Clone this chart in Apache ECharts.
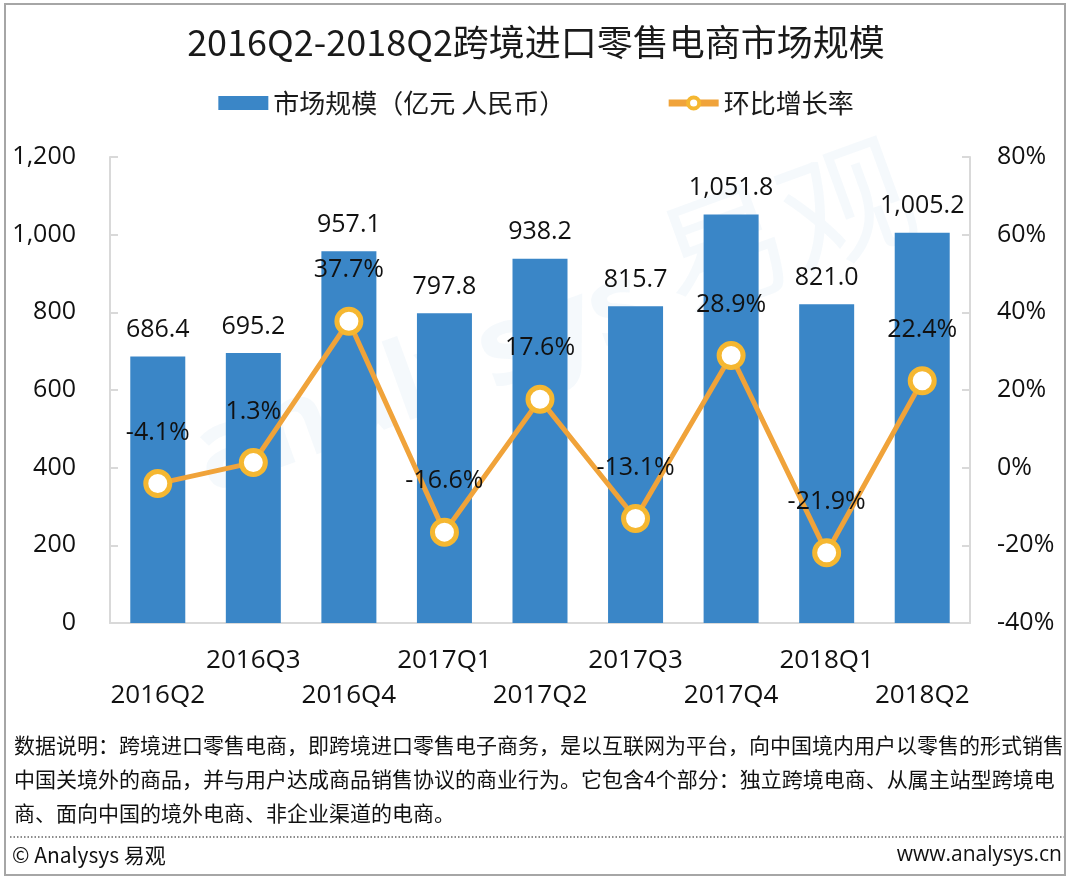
<!DOCTYPE html>
<html>
<head>
<meta charset="utf-8">
<script src="https://cdn.jsdelivr.net/npm/echarts@6/dist/echarts.min.js"></script>
<style>
html, body { margin: 0; padding: 0; background: #fff; }
#main { width: 1072px; height: 884px; }
#frame { position: absolute; left: 4px; top: 3px; width: 1062px; height: 873px; border: 2px solid #a6a6a6; box-sizing: border-box; pointer-events: none; }
</style>
</head>
<body>
<div id="main"></div>
<div id="frame"></div>
<script>
var categories = ['2016Q2', '2016Q3', '2016Q4', '2017Q1', '2017Q2', '2017Q3', '2017Q4', '2018Q1', '2018Q2'];
var marketSize = [686.4, 695.2, 957.1, 797.8, 938.2, 815.7, 1051.8, 821.0, 1005.2];
var growthRate = [-4.1, 1.3, 37.7, -16.6, 17.6, -13.1, 28.9, -21.9, 22.4];
var noteLines = [
	'数据说明：跨境进口零售电商，即跨境进口零售电子商务，是以互联网为平台，向中国境内用户以零售的形式销售',
	'中国关境外的商品，并与用户达成商品销售协议的商业行为。它包含4个部分：独立跨境电商、从属主站型跨境电',
	'商、面向中国的境外电商、非企业渠道的电商。'
];

var numFont = '"Open Sans", "Noto Sans", "Noto Sans CJK SC", sans-serif';
var cjkFont = '"Noto Sans CJK SC", "Noto Sans", sans-serif';

function fmtNum(v) {
	return v.toFixed(1).replace(/\B(?=(\d{3})+(?!\d))/g, ',');
}

var dom = document.getElementById('main');
var myChart = echarts.init(dom);

var graphics = [];
for (var i = 0; i < noteLines.length; i++) {
	graphics.push({
		type: 'text', left: 14, top: 735 + i * 34, silent: true,
		style: { text: noteLines[i], font: '21px ' + cjkFont, fill: '#111' }
	});
}
graphics.push({
	type: 'line', silent: true,
	shape: { x1: 10, y1: 837, x2: 1064, y2: 837 },
	style: { stroke: '#666', lineWidth: 1.5, lineDash: [1.5, 2] }
});
graphics.push({
	type: 'text', left: 12, top: 845, silent: true,
	style: { text: '© Analysys 易观', font: '21px ' + cjkFont, fill: '#111' }
});
graphics.push({
	type: 'text', right: 10, top: 845, silent: true,
	style: { text: 'www.analysys.cn', font: '21px ' + numFont, fill: '#111' }
});
// faint watermark
graphics.push({
	type: 'text', left: 180, top: 250, rotation: 0.35, silent: true, z: -10,
	style: { text: 'analysys', font: 'bold 110px ' + numFont, fill: 'rgba(58,134,199,0.05)' }
});
graphics.push({
	type: 'text', left: 640, top: 120, rotation: 0.35, silent: true, z: -10,
	style: { text: '易观', font: '130px ' + cjkFont, fill: 'rgba(58,134,199,0.05)' }
});

var option = {
	animation: false,
	backgroundColor: '#fff',
	title: {
		text: '2016Q2-2018Q2跨境进口零售电商市场规模',
		left: 'center', top: 19,
		textStyle: { fontSize: 36, fontWeight: 'normal', color: '#1a1a1a', fontFamily: cjkFont }
	},
	legend: {
		top: 85, left: 'center', itemGap: 100, itemWidth: 50, itemHeight: 14,
		textStyle: { fontSize: 26, color: '#1a1a1a', fontFamily: cjkFont },
		data: [
			{ name: '市场规模（亿元 人民币）', icon: 'rect' },
			{ name: '环比增长率', lineStyle: { width: 7, color: '#f0a33a' }, itemStyle: { borderWidth: 4 } }
		]
	},
	grid: { left: 110, right: 102, top: 157, bottom: 261 },
	xAxis: {
		type: 'category',
		data: categories,
		axisLine: { lineStyle: { color: '#d9d9d9', width: 2 } },
		axisTick: { show: false },
		axisLabel: {
			interval: 0, margin: 20, fontSize: 26, lineHeight: 35, color: '#111', fontFamily: numFont,
			formatter: function (value, idx) { return idx % 2 === 0 ? '\n' + value : value; }
		}
	},
	yAxis: [
		{
			type: 'value', min: 0, max: 1200, interval: 200,
			splitLine: { show: false },
			axisLine: { show: true, lineStyle: { color: '#d9d9d9', width: 2 } },
			axisTick: { show: true, inside: true, length: 8, lineStyle: { color: '#d9d9d9', width: 2 } },
			axisLabel: {
				margin: 34, fontSize: 25, color: '#111', fontFamily: numFont,
				formatter: function (v) { return v.toString().replace(/\B(?=(\d{3})+(?!\d))/g, ','); }
			}
		},
		{
			type: 'value', min: -40, max: 80, interval: 20,
			splitLine: { show: false },
			axisLine: { show: true, lineStyle: { color: '#d9d9d9', width: 2 } },
			axisTick: { show: true, inside: true, length: 8, lineStyle: { color: '#d9d9d9', width: 2 } },
			axisLabel: { margin: 27, fontSize: 25, color: '#111', fontFamily: numFont, formatter: '{value}%' }
		}
	],
	series: [
		{
			name: '市场规模（亿元 人民币）',
			type: 'bar',
			barWidth: 55,
			data: marketSize,
			itemStyle: { color: '#3a86c7' },
			label: {
				show: true, position: 'top', distance: 14, fontSize: 25, color: '#111', fontFamily: numFont,
				formatter: function (p) { return fmtNum(p.value); }
			}
		},
		{
			name: '环比增长率',
			type: 'line',
			yAxisIndex: 1,
			data: growthRate,
			symbol: 'circle', symbolSize: 24,
			lineStyle: { color: '#f0a33a', width: 5 },
			itemStyle: { color: '#fff', borderColor: '#f5b731', borderWidth: 5 },
			label: {
				show: true, position: 'top', distance: 24, fontSize: 25, color: '#111', fontFamily: numFont,
				formatter: function (p) { return p.value.toFixed(1) + '%'; }
			},
			z: 5
		}
	],
	graphic: graphics
};

if (option && typeof option === 'object') {
	myChart.setOption(option, true);
}
</script>
</body>
</html>
